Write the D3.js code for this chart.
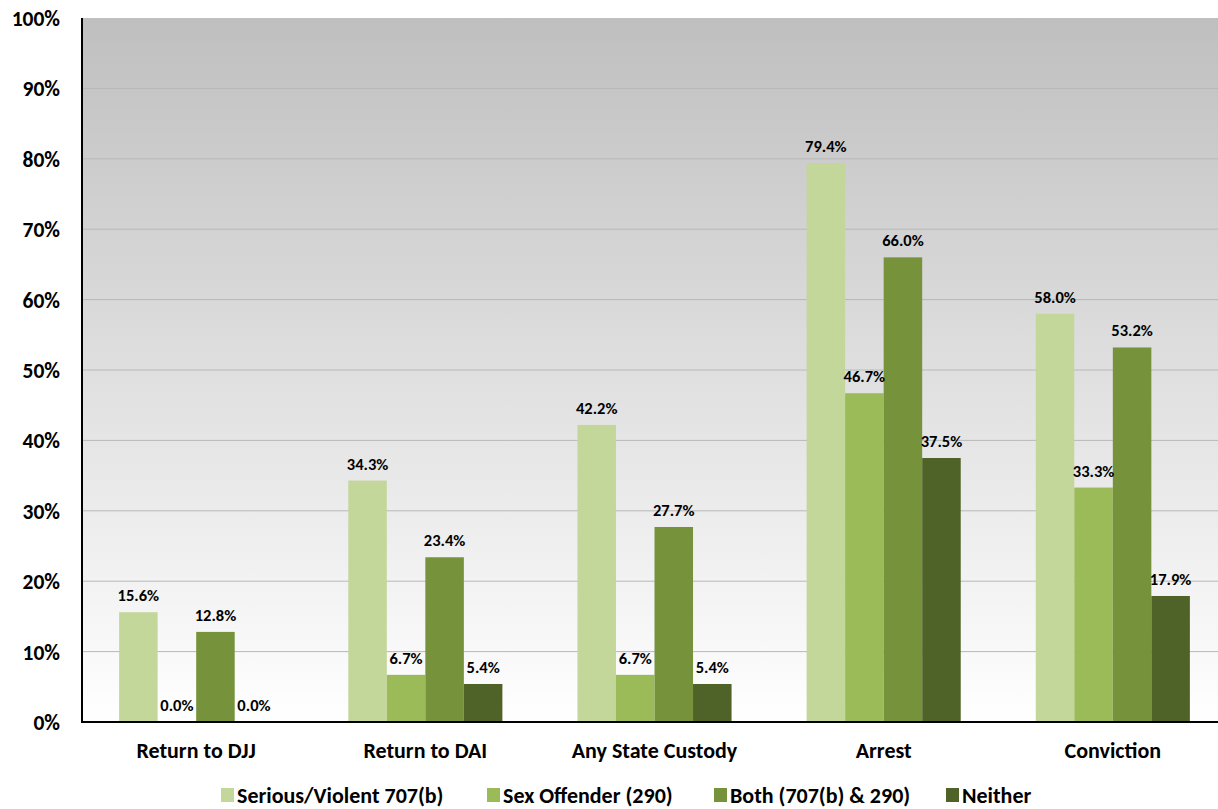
<!DOCTYPE html>
<html>
<head>
<meta charset="utf-8">
<script src="https://cdn.jsdelivr.net/npm/d3@7"></script>
<style>
  body { margin: 0; background: #fff; }
  text { font-family: Carlito, Lato, "Open Sans", sans-serif; font-weight: bold; fill: #000; }
</style>
</head>
<body>
<script>
// chart values
const categories = ["Return to DJJ", "Return to DAI", "Any State Custody", "Arrest", "Conviction"];
const seriesNames = ["Serious/Violent 707(b)", "Sex Offender (290)", "Both (707(b) & 290)", "Neither"];
const seriousViolent = [15.6, 34.3, 42.2, 79.4, 58.0];
const sexOffender = [0.0, 6.7, 6.7, 46.7, 33.3];
const both = [12.8, 23.4, 27.7, 66.0, 53.2];
const neither = [0.0, 5.4, 5.4, 37.5, 17.9];
const yTicks = [0, 10, 20, 30, 40, 50, 60, 70, 80, 90, 100];

const colors = ["#c4d79b", "#9bbb59", "#76933c", "#4f6228"];
const seriesValues = [seriousViolent, sexOffender, both, neither];

const width = 1218, height = 809;
const plotLeft = 82, plotTop = 18, plotBottom = 722;
const plotRight = 1227;

const svg = d3.select("body").append("svg")
  .attr("width", width)
  .attr("height", height);

// background gradient of the plot area
const grad = svg.append("defs").append("linearGradient")
  .attr("id", "bg").attr("x1", 0).attr("y1", 0).attr("x2", 0).attr("y2", 1);
grad.append("stop").attr("offset", "0%").attr("stop-color", "#bfbfbf");
grad.append("stop").attr("offset", "100%").attr("stop-color", "#ffffff");

svg.append("rect")
  .attr("x", plotLeft).attr("y", plotTop)
  .attr("width", plotRight - plotLeft).attr("height", plotBottom - plotTop)
  .attr("fill", "url(#bg)");

const x0 = d3.scaleBand()
  .domain(categories)
  .range([plotLeft, plotRight])
  .paddingInner(0.3275)
  .paddingOuter(0.162);

const x1 = d3.scaleBand()
  .domain(d3.range(seriesNames.length))
  .range([0, x0.bandwidth()]);

const y = d3.scaleLinear().domain([0, 100]).range([plotBottom, plotTop]);

// gridlines
svg.append("g").selectAll("line")
  .data(yTicks.filter(t => t > 0 && t < 100))
  .join("line")
  .attr("x1", plotLeft).attr("x2", plotRight)
  .attr("y1", d => y(d)).attr("y2", d => y(d))
  .attr("stroke", "#b8b8b8").attr("stroke-width", 1);

// y axis
const yAxis = svg.append("g")
  .attr("transform", `translate(${plotLeft},0)`)
  .call(d3.axisLeft(y).tickValues(yTicks).tickSize(0).tickPadding(22).tickFormat(d => d + "%"));
yAxis.select(".domain").remove();
yAxis.selectAll("text").style("font-size", "21.5px").attr("dy", "0.35em");

// bars
const rows = categories.map((c, i) => ({ cat: c, vals: seriesValues.map(s => s[i]) }));

const groups = svg.append("g").selectAll("g")
  .data(rows)
  .join("g")
  .attr("transform", d => `translate(${x0(d.cat)},0)`);

groups.selectAll("rect")
  .data(d => d.vals.map((v, k) => ({ v, k })))
  .join("rect")
  .attr("x", d => x1(d.k))
  .attr("width", x1.bandwidth())
  .attr("y", d => y(d.v))
  .attr("height", d => y(0) - y(d.v))
  .attr("fill", d => colors[d.k]);

groups.selectAll("text")
  .data(d => d.vals.map((v, k) => ({ v, k })))
  .join("text")
  .attr("x", d => x1(d.k) + x1.bandwidth() / 2)
  .attr("y", d => y(d.v) - 11)
  .attr("text-anchor", "middle")
  .style("font-size", "16.5px")
  .text(d => d.v.toFixed(1) + "%");

// axis lines
svg.append("line")
  .attr("x1", plotLeft).attr("x2", plotLeft).attr("y1", plotTop).attr("y2", plotBottom + 1)
  .attr("stroke", "#000").attr("stroke-width", 2);
svg.append("line")
  .attr("x1", plotLeft - 1).attr("x2", plotRight).attr("y1", plotBottom).attr("y2", plotBottom)
  .attr("stroke", "#000").attr("stroke-width", 2);

// category labels
svg.append("g").selectAll("text")
  .data(categories)
  .join("text")
  .attr("x", d => x0(d) + x0.bandwidth() / 2)
  .attr("y", 758)
  .attr("text-anchor", "middle")
  .style("font-size", "22px")
  .text(d => d);

// legend
const legendX = [221, 487, 714, 946];
const legend = svg.append("g").selectAll("g")
  .data(seriesNames)
  .join("g")
  .attr("transform", (d, i) => `translate(${legendX[i]},788)`);
legend.append("rect")
  .attr("width", 13).attr("height", 14)
  .attr("fill", (d, i) => colors[i]);
legend.append("text")
  .attr("x", 16).attr("y", 14.5)
  .style("font-size", "22px")
  .text(d => d);
</script>
</body>
</html>
